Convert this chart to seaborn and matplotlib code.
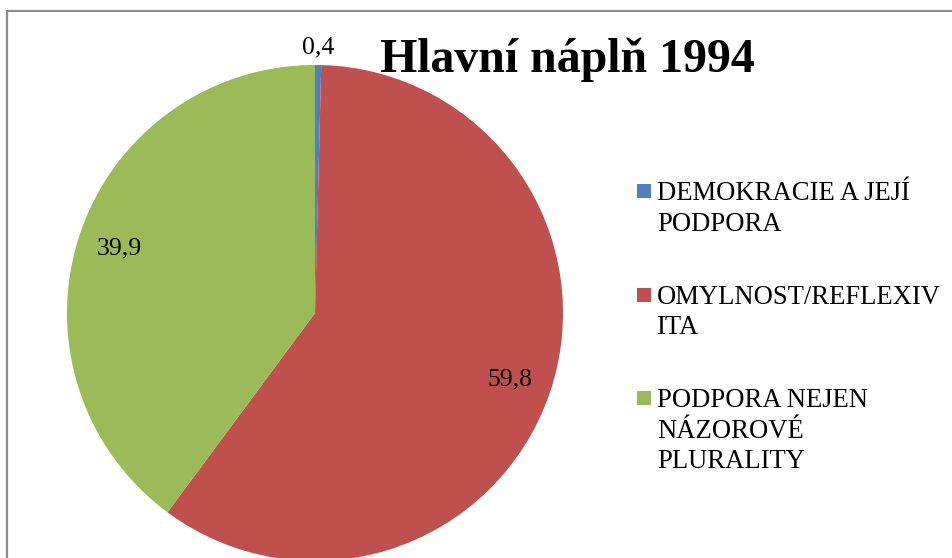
import numpy as np
import matplotlib.pyplot as plt
import matplotlib.patches as mpatches
import seaborn as sns

# Pie data (values as shown in the chart)
categories = ["DEMOKRACIE A JEJÍ\nPODPORA", "OMYLNOST/REFLEXIV\nITA", "PODPORA NEJEN\nNÁZOROVÉ\nPLURALITY"]
values = [0.4, 59.8, 39.9]
colors = ["#4F81BD", "#C0504D", "#9BBB59"]
title = "Hlavní náplň 1994"

sns.set_theme(style="white")
plt.rcParams['font.family'] = ['Liberation Serif', 'DejaVu Serif']
plt.rcParams['text.color'] = 'black'

W, H = 953, 558
fig = plt.figure(figsize=(W / 100, H / 100), dpi=100)
fig.patch.set_facecolor("white")

# pie axes: centre ~ (315, 313) px, radius ~248 px
ax = fig.add_axes([0.0703, -0.0054, 0.5205, 0.889])
total = sum(values)
wedges, texts, autotexts = ax.pie(
    values, colors=colors, startangle=90, counterclock=False,
    autopct=lambda p: f"{p * total / 100:.1f}".replace(".", ","),
    pctdistance=0.83, textprops=dict(fontsize=18.5, color="black"),
    wedgeprops=dict(linewidth=0),
)
ax.set_xlim(-1, 1)
ax.set_ylim(-1, 1)
ax.set_aspect("equal")
ax.axis("off")

# small slice label sits just outside the pie
w = wedges[0]
theta = np.deg2rad((w.theta1 + w.theta2) / 2)
autotexts[0].set_position((1.07 * np.cos(theta), 1.07 * np.sin(theta)))

fig.text(567 / W, 1 - 60 / H, title, fontsize=34.5, fontweight="bold",
         color="black", ha="center", va="center")

# legend: marker aligned with the first line of each label
for i, (c, lab) in enumerate(zip(colors, categories)):
    cap_top = 183 + i * 103.5
    fig.add_artist(mpatches.Rectangle((637 / W, 1 - (cap_top + 15) / H), 14 / W, 14 / H,
                                      transform=fig.transFigure, facecolor=c,
                                      edgecolor="none"))
    fig.text(657 / W, 1 - (cap_top - 2) / H, lab, fontsize=19.2, color="black",
             ha="left", va="top", linespacing=1.3)

# outer chart border
fig.add_artist(mpatches.Rectangle((7.5 / W, -0.1), 1.2, 1.1 - 11.5 / H,
                                  transform=fig.transFigure, fill=False,
                                  edgecolor="#8c8c8c", linewidth=1.6))

fig.savefig("out.png", dpi=100)
